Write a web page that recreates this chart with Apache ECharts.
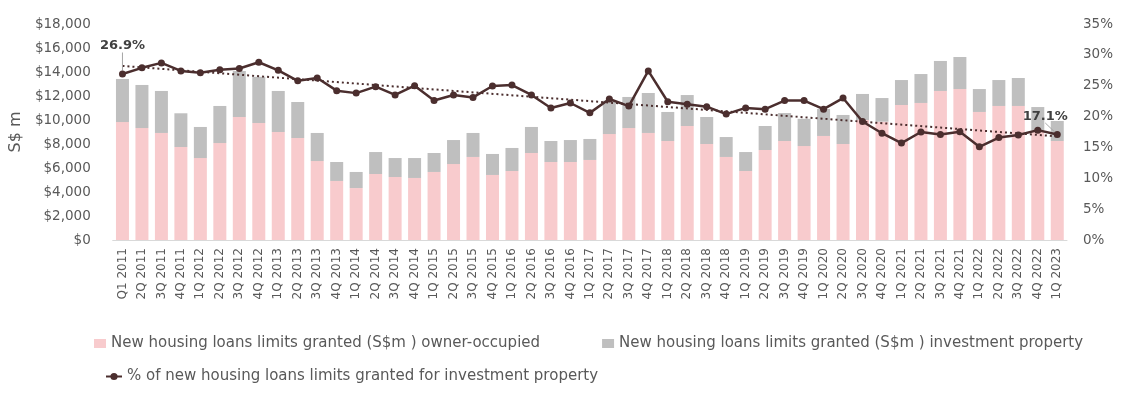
<!DOCTYPE html>
<html><head><meta charset="utf-8">
<script src="https://cdn.jsdelivr.net/npm/echarts@6/dist/echarts.min.js"></script>
<style>html,body{margin:0;padding:0;background:#fff}#c{width:1135px;height:395px}</style>
</head><body><div id="c"></div>
<script>
var categories = ['Q1 2011','2Q 2011','3Q 2011','4Q 2011','1Q 2012','2Q 2012','3Q 2012','4Q 2012','1Q 2013','2Q 2013','3Q 2013','4Q 2013','1Q 2014','2Q 2014','3Q 2014','4Q 2014','1Q 2015','2Q 2015','3Q 2015','4Q 2015','1Q 2016','2Q 2016','3Q 2016','4Q 2016','1Q 2017','2Q 2017','3Q 2017','4Q 2017','1Q 2018','2Q 2018','3Q 2018','4Q 2018','1Q 2019','2Q 2019','3Q 2019','4Q 2019','1Q 2020','2Q 2020','3Q 2020','4Q 2020','1Q 2021','2Q 2021','3Q 2021','4Q 2021','1Q 2022','2Q 2022','3Q 2022','4Q 2022','1Q 2023'];
var ownerOccupied = [9830,9330,8920,7750,6830,8080,10250,9750,9000,8500,6580,4920,4330,5500,5250,5170,5670,6330,6920,5420,5750,7250,6500,6500,6670,8830,9330,8920,8250,9500,8000,6920,5750,7500,8250,7830,8670,8000,10000,9860,11250,11420,12420,12580,10670,11170,11170,9100,8250];
var investment = [3590,3590,3500,2810,2590,3090,3830,3850,3420,3000,2340,1580,1340,1830,1580,1660,1580,2000,2000,1750,1920,2170,1750,1830,1750,2770,2590,3330,2420,2580,2250,1660,1580,2000,2330,2270,2250,2420,2170,1970,2080,2410,2500,2670,1910,2160,2330,1980,1670];
var pctInvestment = [26.9,27.9,28.7,27.4,27.1,27.6,27.8,28.8,27.5,25.8,26.25,24.2,23.8,24.85,23.5,25.0,22.6,23.5,23.1,24.95,25.1,23.5,21.4,22.2,20.6,22.85,21.7,27.4,22.4,22.0,21.6,20.4,21.4,21.2,22.6,22.6,21.2,23.0,19.2,17.3,15.7,17.5,17.1,17.55,15.1,16.6,17.0,17.8,17.1];
var trendEnds = [28.2, 16.8];
var leftTicks = {min:0, max:18000, interval:2000};
var rightTicks = {min:0, max:35, interval:5};
var labelledIdx = [0, 48];

var FONT = 'DejaVu Sans';
var TXT = '#595959';
var LINEC = '#4B2E2E';
var names = ['New housing loans limits granted (S$m ) owner-occupied','New housing loans limits granted (S$m ) investment property','% of new housing loans limits granted for investment property'];

var pctData = pctInvestment.map(function(v,i){
  if (labelledIdx.indexOf(i) >= 0) {
    return {value:v, label:{show:true, position:'top', formatter:function(p){return p.value.toFixed(1)+'%';},
      fontFamily:FONT, fontWeight:'bold', fontSize:13, color:'#404040'}};
  }
  return v;
});

var chart = echarts.init(document.getElementById('c'), null, {renderer:'canvas'});
chart.setOption({
  animation:false,
  textStyle:{fontFamily:FONT},
  grid:{left:104, right:68, top:24, bottom:155, containLabel:false},
  legend:[{
    data:[names[0], names[1]], left:89, top:331, itemWidth:12, itemHeight:9, itemGap:62,
    icon:'rect', textStyle:{fontFamily:FONT, fontSize:15, color:TXT}
  },{
    data:[names[2]], left:100, top:364, itemWidth:16, itemHeight:9,
    textStyle:{fontFamily:FONT, fontSize:15, color:TXT}
  }],
  xAxis:{type:'category', data:categories,
    axisLine:{lineStyle:{color:'#D9D9D9', width:1}}, axisTick:{show:false},
    axisLabel:{rotate:90, interval:0, fontFamily:FONT, fontSize:12, color:TXT, margin:8}},
  yAxis:[{type:'value', min:leftTicks.min, max:leftTicks.max, interval:leftTicks.interval,
    name:'S$ m', nameLocation:'middle', nameGap:80, nameRotate:90,
    nameTextStyle:{fontFamily:FONT, fontSize:16, color:TXT},
    splitLine:{show:false}, axisLine:{show:false}, axisTick:{show:false},
    axisLabel:{fontFamily:FONT, fontSize:13.5, color:TXT, margin:22,
      formatter:function(v){return '$'+v.toLocaleString('en-US');}}},
   {type:'value', min:rightTicks.min, max:rightTicks.max, interval:rightTicks.interval,
    splitLine:{show:false}, axisLine:{show:false}, axisTick:{show:false},
    axisLabel:{fontFamily:FONT, fontSize:13.5, color:TXT, margin:16, align:'left',
      formatter:function(v){return v+'%';}}}],
  series:[
    {name:names[0], type:'bar', stack:'a', data:ownerOccupied, barWidth:13,
     itemStyle:{color:'#F8CBCD'}},
    {name:names[1], type:'bar', stack:'a', data:investment, barWidth:13,
     itemStyle:{color:'#BFBFBF'}},
    {name:names[2], type:'line', yAxisIndex:1, data:pctData, symbol:'circle', symbolSize:7,
     lineStyle:{color:LINEC, width:2.5}, itemStyle:{color:LINEC}, z:5,
     labelLine:{show:true, lineStyle:{color:'#A6A6A6', width:1}},
     labelLayout:function(p){
       if (p.dataIndex === 0) return {dx:0, dy:-13};
       if (p.dataIndex === 48) return {dx:-12, dy:-3};
       return {};
     },
     markLine:{silent:true, symbol:['none','none'], label:{show:false},
       lineStyle:{color:LINEC, type:[2,3], width:2},
       data:[[{coord:[categories[0], trendEnds[0]]},{coord:[categories[categories.length-1], trendEnds[1]]}]]}}
  ]
});
</script></body></html>
